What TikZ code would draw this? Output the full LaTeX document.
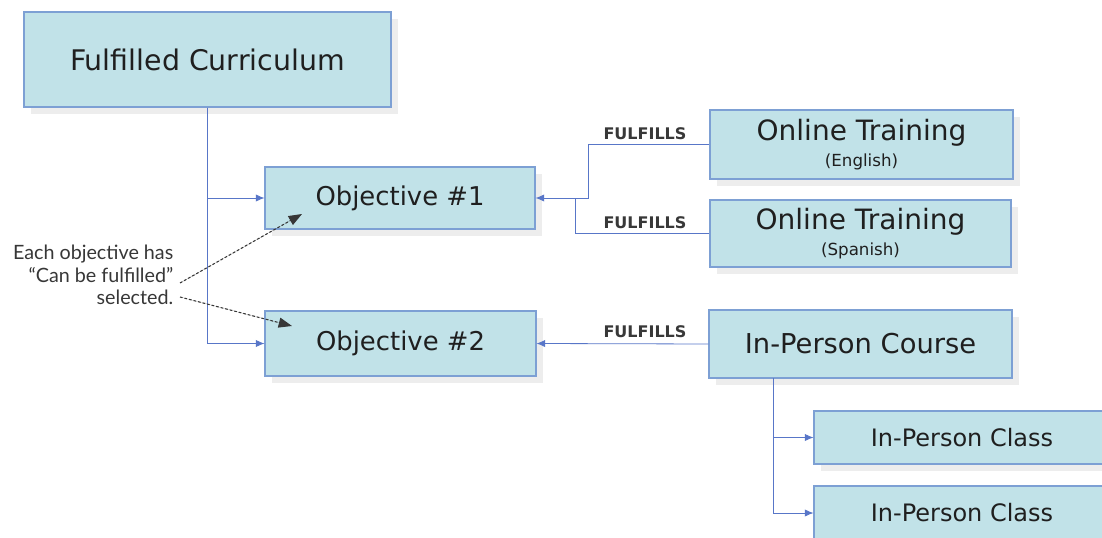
\documentclass[tikz,border=0pt]{standalone}
\usepackage{fontspec}
\setmainfont{DejaVu Sans}
\newfontfamily\notefont{Lato}
\usetikzlibrary{arrows.meta,shadows}
\definecolor{boxfill}{RGB}{193,226,232}
\definecolor{boxline}{RGB}{125,160,212}
\definecolor{linkline}{RGB}{88,118,200}
\definecolor{notegray}{RGB}{55,55,55}
\begin{document}
\begin{tikzpicture}[x=0.75pt, y=-0.75pt,
  box/.style={shape=rectangle, draw=boxline, fill=boxfill, thick, inner sep=0pt, text=black!88,
    drop shadow={shadow xshift=5pt, shadow yshift=-5pt, fill=black!7, opacity=1}},
  link/.style={-{Latex[length=6.5pt,width=5.5pt]}, draw=linkline, semithick},
  tag/.style={font=\bfseries\fontsize{12}{14}\selectfont, text=black!78},
  hint/.style={-{Triangle[length=10pt,width=7.5pt]}, draw=notegray, fill=notegray, thick, dash pattern=on 2pt off 1.5pt}]
\useasboundingbox (0,0) rectangle (1102,538);
\node[box, minimum width=275.25pt, minimum height=71.25pt, font=\fontsize{21.3}{24}\selectfont] (cur) at (207.5,59.5) {Fulfilled Curriculum};
\node[box, minimum width=202.5pt, minimum height=46.5pt, font=\fontsize{19.4}{22}\selectfont] (obj1) at (400,198) {Objective \#1};
\node[box, minimum width=203.25pt, minimum height=48.75pt, font=\fontsize{19.4}{22}\selectfont] (obj2) at (400.5,343.5) {Objective \#2};
\node[box, minimum width=227.25pt, minimum height=51.75pt, align=center, font=\fontsize{21}{22}\selectfont] (eng) at (861.5,144.5) {Online Training\\[-3pt]{\fontsize{12.5}{13}\selectfont (English)}};
\node[box, minimum width=225.75pt, minimum height=50.25pt, align=center, font=\fontsize{21}{22}\selectfont] (spa) at (860.5,233.5) {Online Training\\[-3pt]{\fontsize{12.5}{13}\selectfont (Spanish)}};
\node[box, minimum width=227.25pt, minimum height=51pt, font=\fontsize{20.5}{24}\selectfont] (course) at (860.5,344) {In-Person Course};
\node[box, minimum width=222pt, minimum height=39.75pt, font=\fontsize{18}{22}\selectfont] (cls1) at (962,437.5) {In-Person Class};
\node[box, minimum width=222pt, minimum height=40.5pt, font=\fontsize{18}{22}\selectfont] (cls2) at (962,513) {In-Person Class};
% labels on the fulfil links
\node[tag] (tagEng) at (645,133.5) {FULFILLS};
\node[tag] (tagSpa) at (645,222.5) {FULFILLS};
\node[tag] (tagCourse) at (645,331.5) {FULFILLS};
% note on the left
\node[anchor=east, align=right, text=notegray, font=\notefont\fontsize{14.8}{17}\selectfont] (note) at (178,275) {Each objective has\\“Can be fulfilled”\\selected.};
\coordinate (j1) at (588,198);
\coordinate (j2) at (575,198);
\coordinate (k) at (773,378);
\coordinate (from1) at (180,283);
\coordinate (from2) at (180,297);
\coordinate (tip1) at (302,214);
\coordinate (tip2) at (292,326);
\draw[link] (cur.south) |- (obj1.west);
\draw[link] (cur.south) |- (obj2.west);
\draw[link] (eng.west) -| (j1) -- (obj1.east);
\draw[draw=linkline, semithick] (spa.west) -| (j2);
\draw[link] (course.west) -- (obj2.east);
\draw[link] (k) |- (cls1.west);
\draw[link] (k) |- (cls2.west);
\draw[hint] (from1) -- (tip1);
\draw[hint] (from2) -- (tip2);
\end{tikzpicture}
\end{document}
